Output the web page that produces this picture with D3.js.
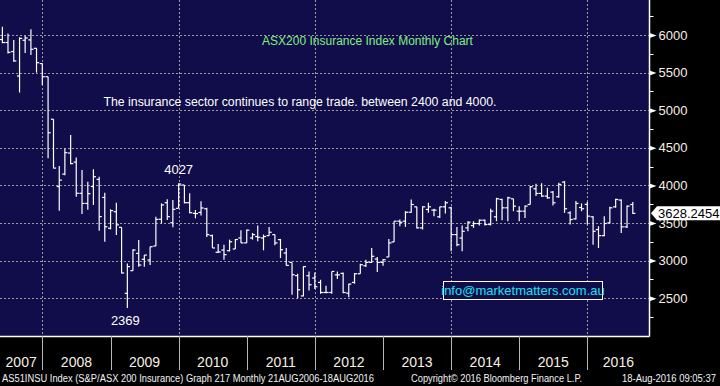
<!DOCTYPE html>
<html>
<head>
<meta charset="utf-8">
<script src="https://cdn.jsdelivr.net/npm/d3@7"></script>
<style>
  body { margin: 0; background: #000; }
  svg { display: block; font-family: "Liberation Sans", Arial, sans-serif; }
</style>
</head>
<body>
<div id="graf"></div>
<script>
// monthly OHLC, May 2007 .. Aug 2016
const startMonth = [2007, 4]
const opens = [
  5940, 5900, 5780, 5455, 5930, 5935, 5823, 5620,
  5445, 4880, 3985, 4150, 4430, 4310, 3895, 3760, 3985, 4080, 3840, 3430,
  3650, 3442, 2565, 2866, 3096, 3017, 3008, 3194, 3550, 3770, 3504, 3695,
  4005, 3770, 3628, 3640, 3689, 3332, 3110, 3140, 3132, 3154, 3301, 3235,
  3301, 3320, 3301, 3332, 3346, 3279, 3101, 2976, 2800, 2530, 2799, 2768,
  2710, 2576, 2576, 2810, 2830, 2567, 2710, 2825, 2932, 2976, 3021, 2976,
  3048, 3248, 3524, 3524, 3643, 3715, 3435, 3680, 3671, 3582, 3715, 3702,
  3346, 3300, 3435, 3466, 3493, 3537, 3480, 3582, 3813, 3702, 3822, 3657,
  3657, 3746, 3955, 3893, 3858, 3911, 3849, 4044, 3635, 3555, 3706, 3747,
  3582, 3413, 3332, 3502, 3715, 3805, 3449, 3746
]
const highs = [
  6110, 6020, 5935, 5970, 5990, 6075, 5825, 5625,
  5446, 4880, 4257, 4490, 4670, 4370, 4205, 4050, 4215, 4116, 3903, 3682,
  3770, 3442, 2963, 3150, 3274, 3074, 3185, 3584, 3761, 3815, 3806, 4027,
  4005, 3894, 3673, 3790, 3702, 3346, 3220, 3212, 3279, 3288, 3404, 3413,
  3368, 3466, 3346, 3448, 3346, 3288, 3168, 2976, 2825, 2925, 2856, 2843,
  2745, 2665, 2856, 2856, 2843, 2692, 2834, 2958, 3012, 3168, 3048, 3021,
  3288, 3524, 3546, 3657, 3813, 3715, 3724, 3769, 3689, 3715, 3791, 3715,
  3448, 3466, 3524, 3524, 3546, 3546, 3689, 3835, 3822, 3849, 3822, 3724,
  3733, 3991, 4022, 4027, 3969, 3924, 4036, 4058, 3657, 3791, 3760, 3778,
  3591, 3457, 3591, 3715, 3822, 3813, 3733, 3778
]
const lows = [
  5890, 5755, 5645, 5235, 5760, 5735, 5500, 5335,
  4360, 4227, 3663, 4135, 4280, 3850, 3620, 3675, 3740, 3398, 3252, 3415,
  3340, 2830, 2369, 2866, 2919, 2919, 2941, 3194, 3495, 3540, 3442, 3695,
  3761, 3628, 3562, 3600, 3315, 3168, 3100, 3012, 3123, 3154, 3235, 3235,
  3279, 3257, 3137, 3332, 3204, 3034, 2936, 2545, 2500, 2525, 2603, 2621,
  2558, 2567, 2558, 2754, 2567, 2514, 2692, 2825, 2914, 2968, 2847, 2932,
  3048, 3248, 3457, 3448, 3635, 3426, 3413, 3635, 3591, 3568, 3626, 3123,
  3190, 3123, 3390, 3435, 3466, 3466, 3466, 3524, 3537, 3524, 3657, 3524,
  3568, 3746, 3858, 3849, 3822, 3733, 3835, 3635, 3479, 3546, 3657, 3479,
  3212, 3168, 3324, 3493, 3702, 3368, 3435, 3620
]
const closes = [
  5900, 5770, 5655, 5955, 5960, 5810, 5632, 5445,
  4700, 4230, 4070, 4435, 4290, 3895, 3760, 3890, 4115, 3585, 3450, 3665,
  3475, 2835, 2920, 3141, 2941, 3074, 3185, 3548, 3740, 3584, 3682, 4018,
  3770, 3637, 3625, 3700, 3346, 3168, 3115, 3079, 3250, 3280, 3235, 3404,
  3346, 3310, 3320, 3377, 3235, 3145, 2936, 2812, 2612, 2920, 2679, 2652,
  2576, 2576, 2856, 2810, 2576, 2688, 2825, 2945, 2976, 3057, 2976, 3012,
  3235, 3524, 3510, 3643, 3746, 3435, 3715, 3715, 3671, 3715, 3769, 3346,
  3212, 3390, 3511, 3493, 3537, 3480, 3657, 3822, 3702, 3835, 3724, 3657,
  3724, 3982, 3893, 3858, 3835, 3769, 4013, 3689, 3546, 3760, 3689, 3591,
  3390, 3332, 3493, 3702, 3813, 3449, 3724, 3628
]
const years = [2007, 2008, 2009, 2010, 2011, 2012, 2013, 2014, 2015, 2016]
const gridYears = [2008, 2010, 2012, 2014, 2016]
const yTicks = [2500, 3000, 3500, 4000, 4500, 5000, 5500, 6000]
const yMinor = [2250, 2750, 3250, 3750, 4250, 4750, 5250, 5750, 6250]
const lastPrice = "3628.2454"
const title = "ASX200 Insurance Index Monthly Chart"
const note = "The insurance sector continues to range trade. between 2400 and 4000."
const hiLabel = { value: 4027, text: "4027", idx: 31 }
const loLabel = { value: 2369, text: "2369", idx: 22 }
const footer = [
  "AS51INSU Index (S&P/ASX 200 Insurance) Graph 217  Monthly 21AUG2006-18AUG2016",
  "Copyright\u00a9 2016 Bloomberg Finance L.P.",
  "18-Aug-2016 09:05:37"
]
const email = "info@marketmatters.com.au"

const W = 720, H = 386
const plotR = 649.5, plotB = 336

const data = opens.map((o, i) => ({
  // bar sits on the last day of its month
  date: new Date(startMonth[0], startMonth[1] + i + 1, 1),
  o, h: highs[i], l: lows[i], c: closes[i]
}))

const svg = d3.select("#graf").append("svg").attr("width", W).attr("height", H)

svg.append("rect").attr("width", W).attr("height", H).attr("fill", "#000")
svg.append("rect").attr("width", plotR).attr("height", plotB).attr("fill", "#110d4a")

const x = d3.scaleTime()
  .domain([new Date(2008, 0, 1), new Date(2016, 0, 1)])
  .range([42.3, 587.3])
const y = d3.scaleLinear().domain([2500, 6000]).range([298.2, 35])

// grid
const grid = svg.append("g").attr("stroke", "#a09c98").attr("stroke-width", 1)
  .attr("stroke-dasharray", "2,2")
grid.selectAll(".hg").data(yTicks).join("line")
  .attr("x1", 0).attr("x2", plotR)
  .attr("y1", (d) => Math.round(y(d)) + 0.5).attr("y2", (d) => Math.round(y(d)) + 0.5)
grid.selectAll(".vg").data(gridYears).join("line")
  .attr("x1", (d) => Math.round(x(new Date(d, 0, 1))) + 0.5)
  .attr("x2", (d) => Math.round(x(new Date(d, 0, 1))) + 0.5)
  .attr("y1", 0).attr("y2", plotB)

// texts in plot
svg.append("text").attr("x", 367.5).attr("y", 45).attr("text-anchor", "middle")
  .attr("fill", "#7ef07e").attr("font-size", 12).text(title)
svg.append("text").attr("x", 300).attr("y", 106).attr("text-anchor", "middle")
  .attr("fill", "#fff").attr("font-size", 12.3).text(note)

// OHLC bars
const bars = svg.append("g").attr("stroke", "#fff").attr("stroke-width", 1.2)
bars.selectAll(".hl").data(data).join("line")
  .attr("x1", (d) => x(d.date)).attr("x2", (d) => x(d.date))
  .attr("y1", (d) => y(d.h)).attr("y2", (d) => y(d.l))
bars.selectAll(".op").data(data).join("line")
  .attr("x1", (d) => x(d.date) - 2.6).attr("x2", (d) => x(d.date))
  .attr("y1", (d) => y(d.o)).attr("y2", (d) => y(d.o))
bars.selectAll(".cl").data(data).join("line")
  .attr("x1", (d) => x(d.date)).attr("x2", (d) => x(d.date) + 2.6)
  .attr("y1", (d) => y(d.c)).attr("y2", (d) => y(d.c))

svg.append("text").attr("x", x(data[hiLabel.idx].date)).attr("y", y(hiLabel.value) - 9)
  .attr("text-anchor", "middle").attr("fill", "#fff").attr("font-size", 13).text(hiLabel.text)
svg.append("text").attr("x", x(data[loLabel.idx].date) - 2).attr("y", y(loLabel.value) + 17)
  .attr("text-anchor", "middle").attr("fill", "#fff").attr("font-size", 13).text(loLabel.text)

// email box
svg.append("rect").attr("x", 443.5).attr("y", 281.5).attr("width", 159).attr("height", 18)
  .attr("fill", "#110d4a").attr("stroke", "#fff").attr("stroke-width", 1)
svg.append("text").attr("x", 523).attr("y", 295).attr("text-anchor", "middle")
  .attr("fill", "#19e3f0").attr("font-size", 13).text(email)

// right axis
const yAxis = d3.axisRight(y).tickValues(yTicks).tickFormat(d3.format("d")).tickSize(0).tickPadding(9)
const ya = svg.append("g").attr("transform", `translate(${plotR},0)`).call(yAxis)
ya.select(".domain").remove()
ya.selectAll("text").attr("fill", "#f6efe4").attr("font-size", 13)
  .attr("font-family", "Liberation Sans, Arial, sans-serif")
ya.selectAll(".tick").append("path").attr("d", "M0,-2.5L7,0L0,2.5Z").attr("fill", "#fff")
svg.append("g").selectAll("line").data(yMinor.filter((d) => y(d) > 0 && y(d) < plotB)).join("line")
  .attr("x1", plotR).attr("x2", plotR + 4)
  .attr("y1", (d) => Math.round(y(d)) + 0.5).attr("y2", (d) => Math.round(y(d)) + 0.5)
  .attr("stroke", "#fff")
svg.append("line").attr("x1", plotR).attr("x2", plotR).attr("y1", 0).attr("y2", plotB + 0.5)
  .attr("stroke", "#fff").attr("stroke-width", 1.5)

// last price flag (covers the 3500 label, as in the terminal)
const lp = y(+lastPrice)
svg.append("path")
  .attr("d", `M651,${lp}L657,${lp - 7}L720,${lp - 7}L720,${lp + 7}L657,${lp + 7}Z`)
  .attr("fill", "#fff")
svg.append("text").attr("x", 658).attr("y", lp + 5).attr("fill", "#000").attr("font-size", 13)
  .text(lastPrice)

// bottom axis
svg.append("line").attr("x1", 0).attr("x2", plotR).attr("y1", plotB + 0.5).attr("y2", plotB + 0.5)
  .attr("stroke", "#fff").attr("stroke-width", 1.5)
const bounds = years.slice(1).map((d) => new Date(d, 0, 1))
svg.append("g").selectAll("line").data(bounds).join("line")
  .attr("x1", (d) => Math.round(x(d)) + 0.5).attr("x2", (d) => Math.round(x(d)) + 0.5)
  .attr("y1", plotB).attr("y2", 370).attr("stroke", "#b8b8b8")
svg.append("g").selectAll("text").data(years).join("text")
  .attr("x", (d) => {
    const a = Math.max(0, x(new Date(d, 0, 1)))
    const b = Math.min(plotR, x(new Date(d + 1, 0, 1)))
    return (a + b) / 2
  })
  .attr("y", 367).attr("text-anchor", "middle").attr("fill", "#f6efe4").attr("font-size", 14)
  .text((d) => d)

// footer
const ft = svg.append("g").attr("fill", "#f2f2f2").attr("font-size", 10)
ft.append("text").attr("x", 2).attr("y", 382).attr("textLength", 372)
  .attr("lengthAdjust", "spacingAndGlyphs").text(footer[0])
ft.append("text").attr("x", 411).attr("y", 382).attr("textLength", 171)
  .attr("lengthAdjust", "spacingAndGlyphs").text(footer[1])
ft.append("text").attr("x", 622).attr("y", 382).attr("textLength", 94)
  .attr("lengthAdjust", "spacingAndGlyphs").text(footer[2])
</script>
</body>
</html>
